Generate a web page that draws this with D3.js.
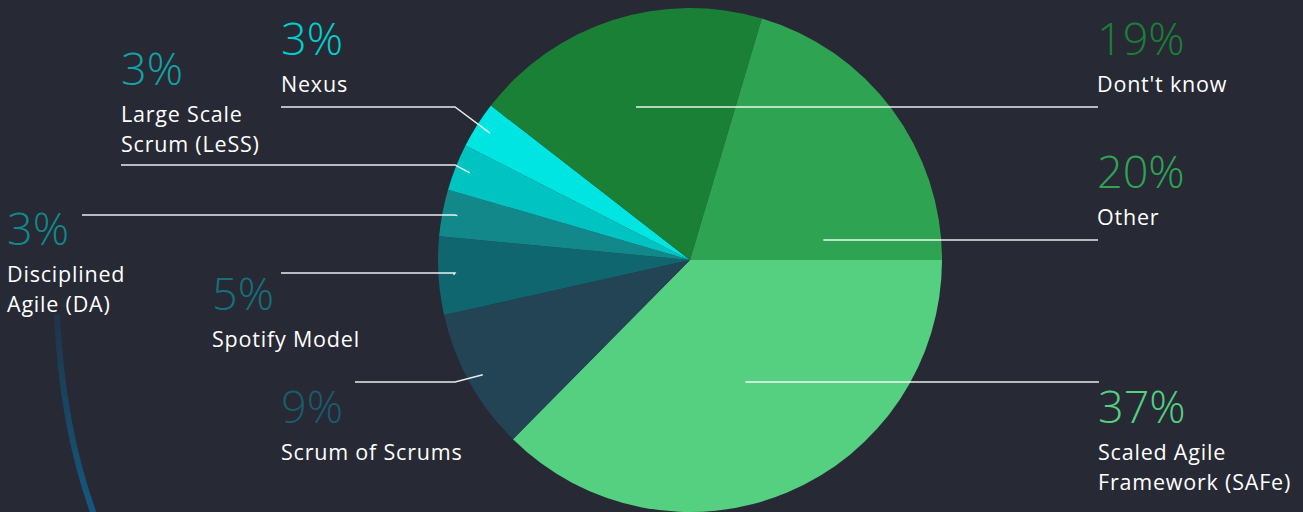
<!DOCTYPE html>
<html><head><meta charset="utf-8">
<script src="https://cdn.jsdelivr.net/npm/d3@7"></script>
<style>html,body{margin:0;padding:0;background:#272935;overflow:hidden}</style>
</head><body><svg id="c" width="1303" height="512"></svg>
<script>
// ---- data ----
const categories = ["Scaled Agile Framework (SAFe)", "Scrum of Scrums", "Spotify Model", "Disciplined Agile (DA)", "Large Scale Scrum (LeSS)", "Nexus", "Dont't know", "Other"];
const values = [37.4, 9.1, 5.0, 3.0, 3.0, 3.0, 19.1, 20.4];
const percentLabels = ["37%", "9%", "5%", "3%", "3%", "3%", "19%", "20%"];
const labelLines = [["Scaled Agile", "Framework (SAFe)"], ["Scrum of Scrums"], ["Spotify Model"], ["Disciplined", "Agile (DA)"], ["Large Scale", "Scrum (LeSS)"], ["Nexus"], ["Dont't know"], ["Other"]];

// ---- styles / layout ----
const sliceColors = ["#55cf80", "#224455", "#10666e", "#12888a", "#00c3c2", "#00e5e2", "#1a8035", "#2ea453"];
const textColors  = ["#55cf80", "#1b5b6b", "#157078", "#12888a", "#12a3a4", "#00d0cd", "#1a8035", "#2ea453"];
const layout = [
  {side: "right", tx: 1098, pctY: 423, lineY: 382, r0: 0.57},
  {side: "left",  tx: 281,  pctY: 423, lineX: 355, elbowX: 455, lineY: 382},
  {side: "left",  tx: 212,  pctY: 310, lineX: 281, elbowX: 455, lineY: 273},
  {side: "left",  tx: 7,    pctY: 245, lineX: 82,  elbowX: 455, lineY: 215},
  {side: "left",  tx: 121,  pctY: 85,  lineX: 121, elbowX: 455, lineY: 165},
  {side: "left",  tx: 281,  pctY: 55,  lineX: 281, elbowX: 455, lineY: 107},
  {side: "right", tx: 1097, pctY: 55,  lineY: 107, r0: 0.70},
  {side: "right", tx: 1097, pctY: 188, lineY: 240, r0: 0.66}
];

const W = 1303, H = 512;
const cx = 690, cy = 260, R = 252;
const svg = d3.select("#c");

// decorative curve
const defs = svg.append("defs");
const grad = defs.append("linearGradient").attr("id", "cg").attr("x1", 0).attr("y1", 0).attr("x2", 0).attr("y2", 1);
grad.append("stop").attr("offset", "0%").attr("stop-color", "#1f3448");
grad.append("stop").attr("offset", "100%").attr("stop-color", "#135a82");
svg.append("path")
  .attr("d", "M57,314 Q62,430 96,520")
  .attr("fill", "none").attr("stroke", "url(#cg)").attr("stroke-width", 6);

const pie = d3.pie().sort(null).value(d => d)
  .startAngle(Math.PI / 2).endAngle(Math.PI / 2 + 2 * Math.PI);
const arcs = pie(values);
const arc = d3.arc().innerRadius(0).outerRadius(R);

const g = svg.append("g").attr("transform", `translate(${cx},${cy})`);
g.selectAll("path.slice").data(arcs).enter().append("path")
  .attr("class", "slice")
  .attr("d", arc)
  .attr("fill", (d, i) => sliceColors[i]);

// leader lines
const lines = svg.append("g").attr("fill", "none").attr("stroke", "#ffffff").attr("stroke-width", 1.4).attr("stroke-opacity", 0.9);
arcs.forEach((a, i) => {
  const L = layout[i];
  const mid = (a.startAngle + a.endAngle) / 2;
  if (L.side === "left") {
    const r = R * 0.94;
    const px = cx + Math.sin(mid) * r, py = cy - Math.cos(mid) * r;
    lines.append("path").attr("d", d3.line()([[L.lineX, L.lineY], [L.elbowX, L.lineY], [px, py]]));
  } else {
    const px = cx + Math.sin(mid) * R * L.r0;
    lines.append("path").attr("d", d3.line()([[px, L.lineY], [L.tx + 1, L.lineY]]));
  }
});

// labels
const labels = svg.append("g");
arcs.forEach((a, i) => {
  const L = layout[i];
  labels.append("text")
    .attr("x", L.tx).attr("y", L.pctY)
    .attr("fill", textColors[i])
    .attr("font-family", "'Open Sans', sans-serif")
    .attr("font-weight", 300)
    .attr("font-size", 45)
    .text(percentLabels[i]);
  labelLines[i].forEach((t, j) => {
    labels.append("text")
      .attr("x", L.tx).attr("y", L.pctY + 37 + j * 30)
      .attr("fill", "#ffffff")
      .attr("font-family", "'Open Sans', sans-serif")
      .attr("font-size", 21.5)
      .attr("letter-spacing", 0.8)
      .text(t);
  });
});
</script>
</body></html>
